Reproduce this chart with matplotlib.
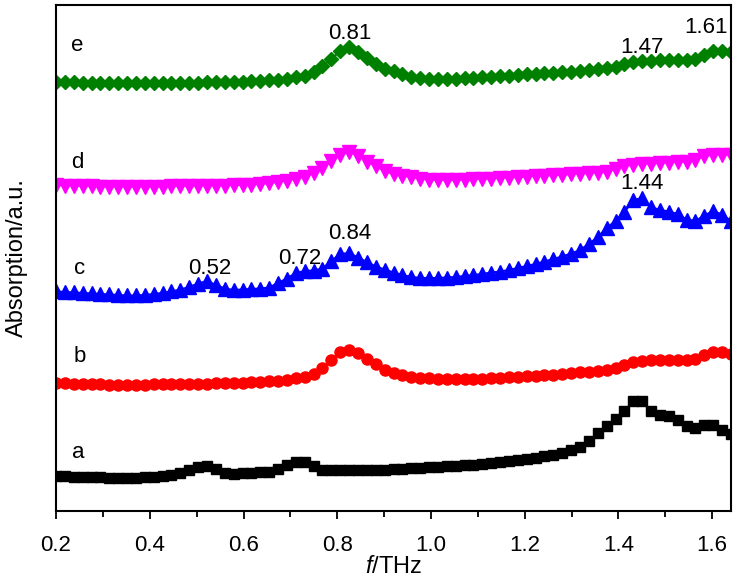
import numpy as np
import matplotlib
matplotlib.use('Agg')
import matplotlib.pyplot as plt
from matplotlib.ticker import MultipleLocator

# frequency grid (THz)
freq = np.linspace(0.2, 1.64, 77)

# absorption curves (a.u., already offset)
abs_a = [0.35, 0.345, 0.34, 0.34, 0.335, 0.335, 0.33, 0.33, 0.33, 0.33, 0.335, 0.34, 0.345, 0.355, 0.38, 0.41,
         0.435, 0.445, 0.415, 0.38, 0.37, 0.375, 0.38, 0.385, 0.39, 0.415, 0.46, 0.49, 0.485, 0.445, 0.41, 0.405,
         0.405, 0.405, 0.405, 0.405, 0.41, 0.41, 0.415, 0.42, 0.425, 0.43, 0.435, 0.44, 0.445, 0.45, 0.455, 0.46,
         0.47, 0.48, 0.49, 0.50, 0.51, 0.52, 0.53, 0.545, 0.56, 0.58, 0.605, 0.64, 0.70, 0.78, 0.85, 0.92, 0.995,
         1.10, 1.095, 0.995, 0.96, 0.945, 0.91, 0.85, 0.83, 0.855, 0.86, 0.81, 0.77]
abs_b = [1.28, 1.275, 1.27, 1.27, 1.265, 1.265, 1.26, 1.26, 1.26, 1.26, 1.26, 1.265, 1.265, 1.265, 1.27, 1.27,
         1.27, 1.27, 1.275, 1.275, 1.28, 1.28, 1.285, 1.29, 1.295, 1.30, 1.31, 1.325, 1.34, 1.37, 1.425, 1.51,
         1.59, 1.61, 1.575, 1.515, 1.465, 1.41, 1.375, 1.355, 1.34, 1.33, 1.325, 1.32, 1.32, 1.315, 1.315, 1.32,
         1.32, 1.325, 1.33, 1.335, 1.34, 1.345, 1.35, 1.355, 1.36, 1.37, 1.375, 1.385, 1.39, 1.40, 1.41, 1.43,
         1.46, 1.49, 1.50, 1.505, 1.51, 1.51, 1.51, 1.505, 1.52, 1.56, 1.59, 1.585, 1.57]
abs_c = [2.195, 2.19, 2.185, 2.18, 2.175, 2.17, 2.165, 2.16, 2.155, 2.155, 2.16, 2.17, 2.18, 2.195, 2.215, 2.24,
         2.275, 2.30, 2.26, 2.225, 2.21, 2.215, 2.22, 2.225, 2.235, 2.28, 2.325, 2.38, 2.40, 2.405, 2.425, 2.50,
         2.57, 2.58, 2.535, 2.49, 2.445, 2.415, 2.385, 2.36, 2.34, 2.33, 2.33, 2.33, 2.335, 2.34, 2.35, 2.36,
         2.37, 2.385, 2.395, 2.41, 2.43, 2.45, 2.47, 2.495, 2.52, 2.545, 2.575, 2.61, 2.67, 2.74, 2.83, 2.90,
         2.99, 3.11, 3.13, 3.04, 3.01, 2.995, 2.97, 2.915, 2.90, 2.955, 3.00, 2.965, 2.90]
abs_d = [3.26, 3.255, 3.255, 3.25, 3.25, 3.245, 3.245, 3.245, 3.245, 3.245, 3.245, 3.245, 3.245, 3.25, 3.25, 3.25,
         3.255, 3.255, 3.255, 3.255, 3.26, 3.26, 3.265, 3.27, 3.28, 3.29, 3.305, 3.325, 3.345, 3.38, 3.43, 3.50,
         3.565, 3.59, 3.555, 3.495, 3.45, 3.40, 3.37, 3.355, 3.34, 3.325, 3.315, 3.31, 3.31, 3.31, 3.315, 3.32,
         3.325, 3.325, 3.33, 3.335, 3.34, 3.345, 3.35, 3.355, 3.36, 3.365, 3.37, 3.375, 3.38, 3.385, 3.395, 3.42,
         3.45, 3.465, 3.47, 3.475, 3.48, 3.485, 3.49, 3.495, 3.51, 3.55, 3.565, 3.565, 3.56]
abs_e = [4.295, 4.29, 4.29, 4.285, 4.285, 4.28, 4.28, 4.28, 4.28, 4.28, 4.28, 4.28, 4.28, 4.285, 4.285, 4.285,
         4.285, 4.29, 4.29, 4.29, 4.295, 4.295, 4.30, 4.305, 4.31, 4.315, 4.325, 4.34, 4.355, 4.395, 4.45, 4.52,
         4.60, 4.64, 4.59, 4.53, 4.475, 4.425, 4.40, 4.37, 4.345, 4.33, 4.325, 4.325, 4.325, 4.325, 4.33, 4.335,
         4.34, 4.345, 4.35, 4.355, 4.365, 4.37, 4.375, 4.38, 4.385, 4.39, 4.395, 4.40, 4.41, 4.42, 4.43, 4.445,
         4.47, 4.495, 4.50, 4.505, 4.51, 4.51, 4.51, 4.51, 4.525, 4.565, 4.605, 4.605, 4.59]

curve_names = ['a', 'b', 'c', 'd', 'e']
curve_label_pos = [(0.247, 0.58), (0.251, 1.54), (0.251, 2.43), (0.245, 3.49), (0.245, 4.66)]

# peak annotations: text, x, y
peak_text = ['0.52', '0.72', '0.84', '1.44', '0.81', '1.47', '1.61']
peak_x = [0.528, 0.720, 0.826, 1.449, 0.826, 1.451, 1.587]
peak_y = [2.43, 2.53, 2.78, 3.28, 4.78, 4.64, 4.84]

plt.rcParams['font.family'] = ['Liberation Sans', 'DejaVu Sans']
plt.rcParams['mathtext.fontset'] = 'custom'
plt.rcParams['mathtext.rm'] = 'Liberation Sans'
plt.rcParams['mathtext.it'] = 'Liberation Sans:italic'

fig = plt.figure(figsize=(7.38, 5.82), dpi=100)
ax = fig.add_axes([0.0759, 0.122, 0.9146, 0.8694])

ax.plot(freq, abs_a, color='black', marker='s', ms=7.5, lw=1.5)
ax.plot(freq, abs_b, color='red', marker='o', ms=8, lw=1.5)
ax.plot(freq, abs_c, color='blue', marker='^', ms=9.5, lw=1.5)
ax.plot(freq, abs_d, color='magenta', marker='v', ms=9.5, lw=1.5)
ax.plot(freq, abs_e, color='green', marker='D', ms=7.5, lw=1.5)

for name, (px, py) in zip(curve_names, curve_label_pos):
    ax.text(px, py, name, fontsize=16, ha='center', va='center')
for t, px, py in zip(peak_text, peak_x, peak_y):
    ax.text(px, py, t, fontsize=16, ha='center', va='center')

ax.set_xlim(0.2, 1.64)
ax.set_ylim(0, 5.06)
ax.xaxis.set_major_locator(MultipleLocator(0.2))
ax.xaxis.set_minor_locator(MultipleLocator(0.1))
ax.set_yticks([])
ax.tick_params(axis='x', which='major', direction='out', length=6, width=1.3, labelsize=16, pad=11)
ax.tick_params(axis='x', which='minor', direction='out', length=4, width=1.3)
for s in ax.spines.values():
    s.set_linewidth(1.5)

ax.set_xlabel(r'$\mathit{f}$/THz', fontsize=17, labelpad=0)
ax.set_ylabel('Absorption/a.u.', fontsize=17, labelpad=20)

fig.savefig('out.png', dpi=100)
